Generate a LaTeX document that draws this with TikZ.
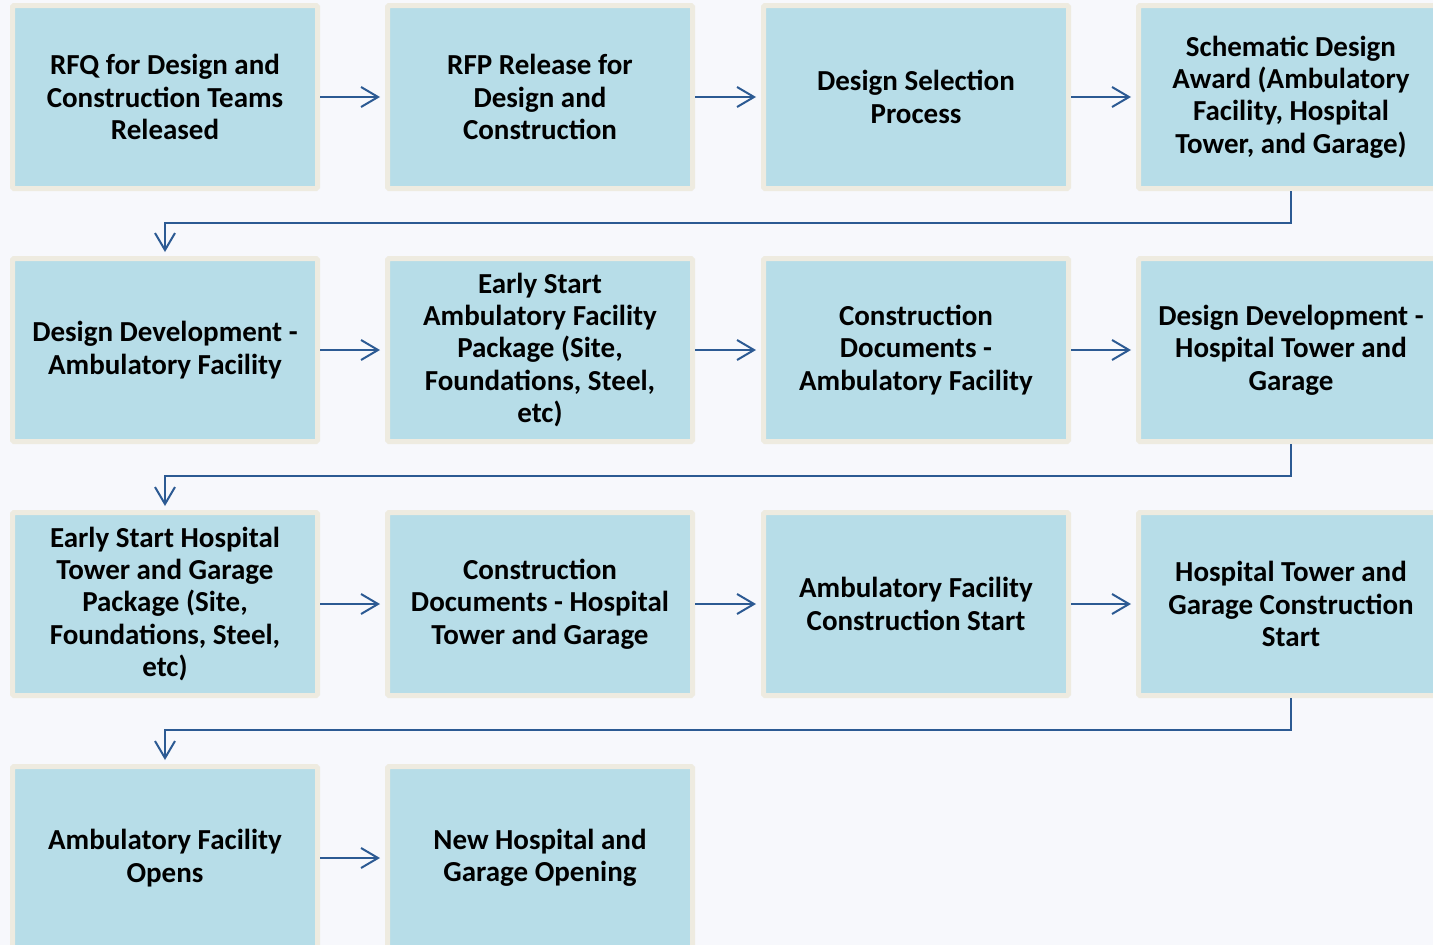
\documentclass[tikz,border=0pt]{standalone}
\usepackage{fontspec}
\setmainfont{Carlito}
\usetikzlibrary{arrows.meta}
\definecolor{boxfill}{HTML}{B7DDE8}
\definecolor{boxedge}{HTML}{EEEBE0}
\definecolor{conn}{HTML}{2C5A93}
\definecolor{bg}{HTML}{F7F8FC}
\tikzset{
  stage/.style={fill=boxfill, draw=boxedge, line width=5pt, rounded corners=1.5pt,
    minimum width=305pt, minimum height=183pt, inner sep=0pt, align=center,
    font=\fontsize{29}{32.4}\selectfont\bfseries, text=black},
  flow/.style={draw=conn, line width=2pt, -{Straight Barb[length=17pt,width=20pt,line width=2pt]}},
  hflow/.style={flow, shorten <=0pt, shorten >=5pt},
  vflow/.style={flow, shorten <=0pt, shorten >=4pt},
}
\begin{document}
\begin{tikzpicture}[x=1pt,y=-1pt]
\useasboundingbox (0,0) rectangle (1433,945);
\fill[bg] (0,0) rectangle (1433,945);
\begin{scope}
\clip (0,0) rectangle (1433,945);
% row 1
\node[stage] (a1) at (165,97) {RFQ for Design and\\Construction Teams\\Released};
\node[stage] (a2) at (540,97) {RFP Release for\\Design and\\Construction};
\node[stage] (a3) at (916,97) {Design Selection\\Process};
\node[stage] (a4) at (1291,97) {Schematic Design\\Award (Ambulatory\\Facility, Hospital\\Tower, and Garage)};
% row 2
\node[stage] (b1) at (165,350) {Design Development -\\Ambulatory Facility};
\node[stage] (b2) at (540,350) {Early Start\\Ambulatory Facility\\Package (Site,\\Foundations, Steel,\\etc)};
\node[stage] (b3) at (916,350) {Construction\\Documents -\\Ambulatory Facility};
\node[stage] (b4) at (1291,350) {Design Development -\\Hospital Tower and\\Garage};
% row 3
\node[stage] (c1) at (165,604) {Early Start Hospital\\Tower and Garage\\Package (Site,\\Foundations, Steel,\\etc)};
\node[stage] (c2) at (540,604) {Construction\\Documents - Hospital\\Tower and Garage};
\node[stage] (c3) at (916,604) {Ambulatory Facility\\Construction Start};
\node[stage] (c4) at (1291,604) {Hospital Tower and\\Garage Construction\\Start};
% row 4
\node[stage] (d1) at (165,858) {Ambulatory Facility\\Opens};
\node[stage] (d2) at (540,858) {New Hospital and\\Garage Opening};
% horizontal connectors
\draw[hflow] (a1) -- (a2);
\draw[hflow] (a2) -- (a3);
\draw[hflow] (a3) -- (a4);
\draw[hflow] (b1) -- (b2);
\draw[hflow] (b2) -- (b3);
\draw[hflow] (b3) -- (b4);
\draw[hflow] (c1) -- (c2);
\draw[hflow] (c2) -- (c3);
\draw[hflow] (c3) -- (c4);
\draw[hflow] (d1) -- (d2);
% row-wrapping connectors
\draw[vflow] (a4.south) -- ++(0,32) -| (b1.north);
\draw[vflow] (b4.south) -- ++(0,32) -| (c1.north);
\draw[vflow] (c4.south) -- ++(0,32) -| (d1.north);
\end{scope}
\end{tikzpicture}
\end{document}
